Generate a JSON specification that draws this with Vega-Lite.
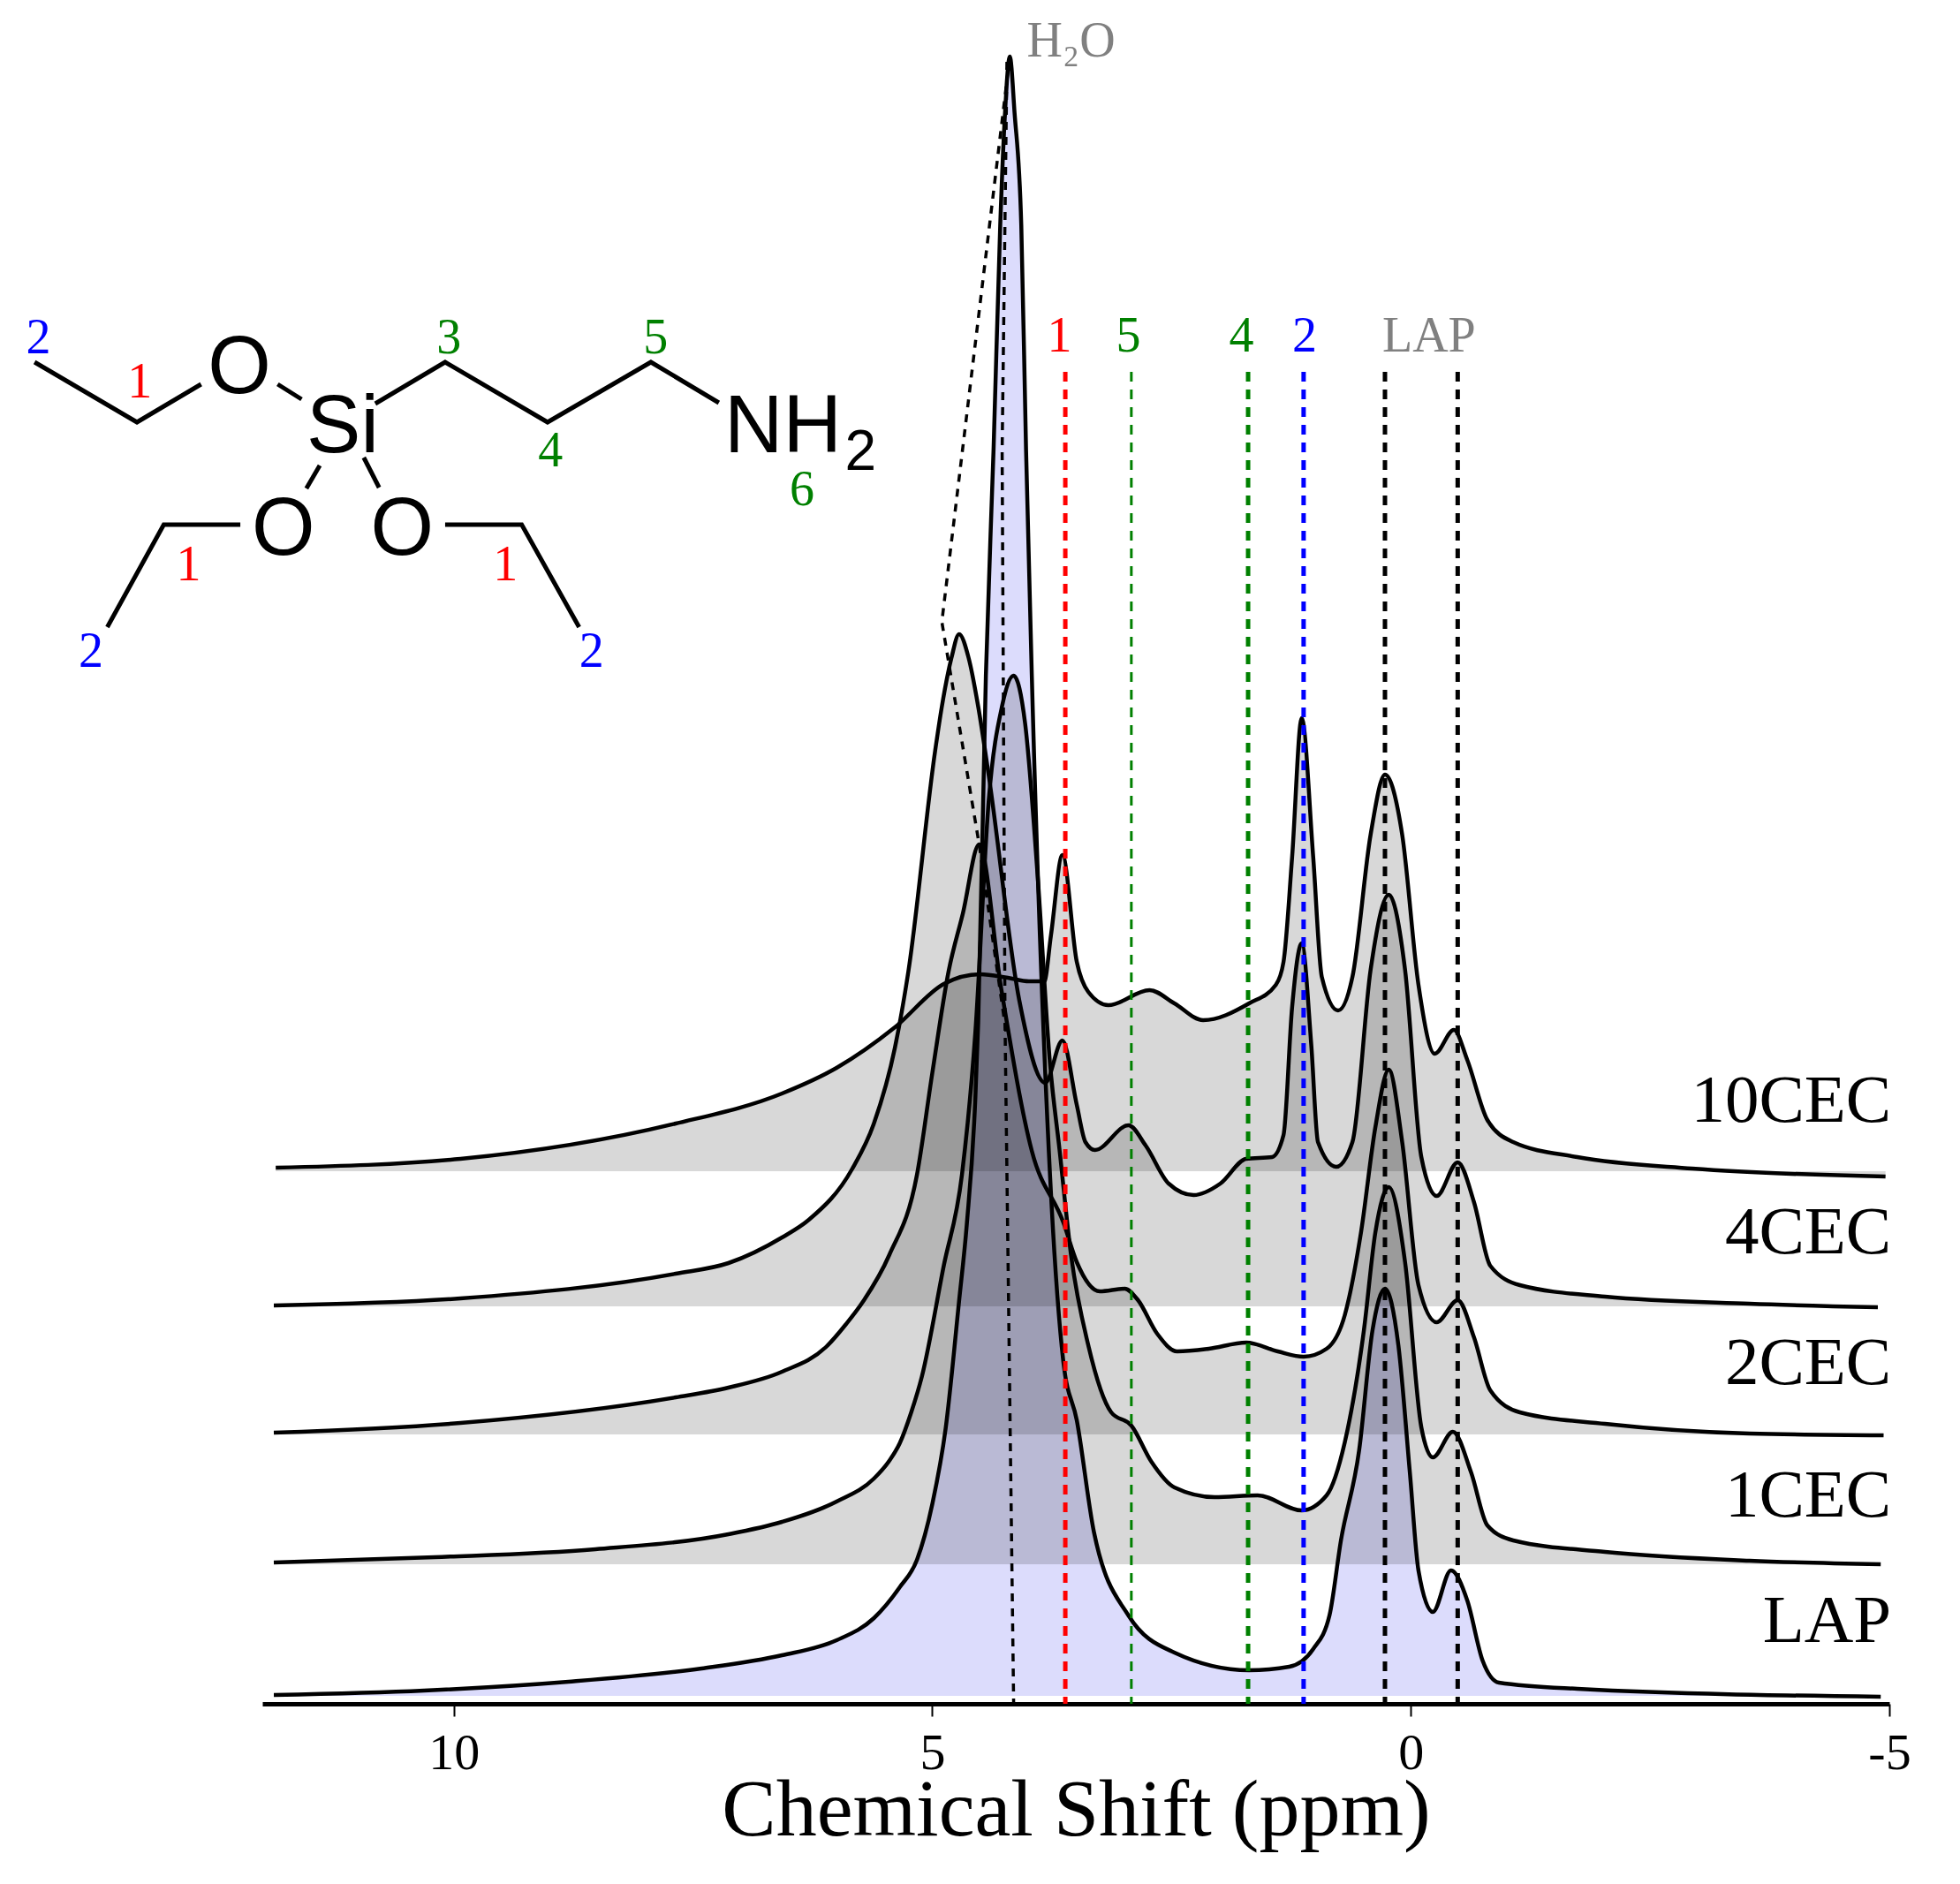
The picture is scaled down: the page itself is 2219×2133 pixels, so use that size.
{
  "$schema": "https://vega.github.io/schema/vega-lite/v6.json",
  "width": 1842,
  "height": 1929,
  "autosize": "none",
  "padding": {"left": 297, "top": 0, "right": 80, "bottom": 204},
  "background": "white",
  "config": {"view": {"stroke": null}},
  "datasets": {
    "spectra": [
      {"series":"10CEC","ppm":11.86,"y":607,"base":603},{"series":"10CEC","ppm":9.93,"y":617,"base":603},{"series":"10CEC","ppm":7.68,"y":657,"base":603},{"series":"10CEC","ppm":6.57,"y":691,"base":603},{"series":"10CEC","ppm":6.0,"y":720,"base":603},{"series":"10CEC","ppm":5.39,"y":766,"base":603},{"series":"10CEC","ppm":4.88,"y":815,"base":603},{"series":"10CEC","ppm":4.5,"y":826,"base":603},{"series":"10CEC","ppm":4.21,"y":822,"base":603},{"series":"10CEC","ppm":3.99,"y":818,"base":603},{"series":"10CEC","ppm":3.83,"y":818,"base":603},{"series":"10CEC","ppm":3.76,"y":870,"base":603},{"series":"10CEC","ppm":3.64,"y":961,"base":603},{"series":"10CEC","ppm":3.49,"y":840,"base":603},{"series":"10CEC","ppm":3.37,"y":806,"base":603},{"series":"10CEC","ppm":3.16,"y":791,"base":603},{"series":"10CEC","ppm":2.73,"y":808,"base":603},{"series":"10CEC","ppm":2.47,"y":793,"base":603},{"series":"10CEC","ppm":2.17,"y":774,"base":603},{"series":"10CEC","ppm":1.69,"y":793,"base":603},{"series":"10CEC","ppm":1.41,"y":814,"base":603},{"series":"10CEC","ppm":1.33,"y":840,"base":603},{"series":"10CEC","ppm":1.24,"y":959,"base":603},{"series":"10CEC","ppm":1.14,"y":1116,"base":603},{"series":"10CEC","ppm":1.02,"y":959,"base":603},{"series":"10CEC","ppm":0.93,"y":823,"base":603},{"series":"10CEC","ppm":0.76,"y":785,"base":603},{"series":"10CEC","ppm":0.61,"y":823,"base":603},{"series":"10CEC","ppm":0.42,"y":984,"base":603},{"series":"10CEC","ppm":0.27,"y":1052,"base":603},{"series":"10CEC","ppm":0.09,"y":984,"base":603},{"series":"10CEC","ppm":-0.08,"y":814,"base":603},{"series":"10CEC","ppm":-0.25,"y":736,"base":603},{"series":"10CEC","ppm":-0.45,"y":763,"base":603},{"series":"10CEC","ppm":-0.59,"y":729,"base":603},{"series":"10CEC","ppm":-0.8,"y":661,"base":603},{"series":"10CEC","ppm":-1.07,"y":636,"base":603},{"series":"10CEC","ppm":-1.74,"y":619,"base":603},{"series":"10CEC","ppm":-2.94,"y":606,"base":603},{"series":"10CEC","ppm":-4.96,"y":597,"base":603},
      {"series":"4CEC","ppm":11.88,"y":451,"base":450},{"series":"4CEC","ppm":9.93,"y":459,"base":450},{"series":"4CEC","ppm":7.68,"y":487,"base":450},{"series":"4CEC","ppm":7.13,"y":499,"base":450},{"series":"4CEC","ppm":6.57,"y":528,"base":450},{"series":"4CEC","ppm":6.29,"y":548,"base":450},{"series":"4CEC","ppm":5.84,"y":605,"base":450},{"series":"4CEC","ppm":5.61,"y":657,"base":450},{"series":"4CEC","ppm":5.39,"y":743,"base":450},{"series":"4CEC","ppm":5.25,"y":829,"base":450},{"series":"4CEC","ppm":4.97,"y":1079,"base":450},{"series":"4CEC","ppm":4.9,"y":1129,"base":450},{"series":"4CEC","ppm":4.8,"y":1184,"base":450},{"series":"4CEC","ppm":4.72,"y":1211,"base":450},{"series":"4CEC","ppm":4.62,"y":1184,"base":450},{"series":"4CEC","ppm":4.52,"y":1129,"base":450},{"series":"4CEC","ppm":4.41,"y":1051,"base":450},{"series":"4CEC","ppm":4.09,"y":796,"base":450},{"series":"4CEC","ppm":3.82,"y":703,"base":450},{"series":"4CEC","ppm":3.64,"y":751,"base":450},{"series":"4CEC","ppm":3.49,"y":678,"base":450},{"series":"4CEC","ppm":3.4,"y":636,"base":450},{"series":"4CEC","ppm":3.3,"y":627,"base":450},{"series":"4CEC","ppm":2.95,"y":655,"base":450},{"series":"4CEC","ppm":2.77,"y":632,"base":450},{"series":"4CEC","ppm":2.53,"y":589,"base":450},{"series":"4CEC","ppm":2.27,"y":576,"base":450},{"series":"4CEC","ppm":1.99,"y":589,"base":450},{"series":"4CEC","ppm":1.72,"y":617,"base":450},{"series":"4CEC","ppm":1.45,"y":619,"base":450},{"series":"4CEC","ppm":1.33,"y":644,"base":450},{"series":"4CEC","ppm":1.24,"y":789,"base":450},{"series":"4CEC","ppm":1.14,"y":861,"base":450},{"series":"4CEC","ppm":1.04,"y":746,"base":450},{"series":"4CEC","ppm":0.97,"y":636,"base":450},{"series":"4CEC","ppm":0.78,"y":608,"base":450},{"series":"4CEC","ppm":0.61,"y":636,"base":450},{"series":"4CEC","ppm":0.42,"y":831,"base":450},{"series":"4CEC","ppm":0.23,"y":916,"base":450},{"series":"4CEC","ppm":0.06,"y":831,"base":450},{"series":"4CEC","ppm":-0.11,"y":619,"base":450},{"series":"4CEC","ppm":-0.27,"y":575,"base":450},{"series":"4CEC","ppm":-0.49,"y":613,"base":450},{"series":"4CEC","ppm":-0.66,"y":568,"base":450},{"series":"4CEC","ppm":-0.83,"y":496,"base":450},{"series":"4CEC","ppm":-1.14,"y":474,"base":450},{"series":"4CEC","ppm":-2.03,"y":461,"base":450},{"series":"4CEC","ppm":-3.54,"y":453,"base":450},{"series":"4CEC","ppm":-4.88,"y":449,"base":450},
      {"series":"2CEC","ppm":11.88,"y":307,"base":305},{"series":"2CEC","ppm":9.93,"y":318,"base":305},{"series":"2CEC","ppm":7.68,"y":347,"base":305},{"series":"2CEC","ppm":7.13,"y":358,"base":305},{"series":"2CEC","ppm":6.57,"y":376,"base":305},{"series":"2CEC","ppm":6.11,"y":404,"base":305},{"series":"2CEC","ppm":5.9,"y":430,"base":305},{"series":"2CEC","ppm":5.72,"y":456,"base":305},{"series":"2CEC","ppm":5.45,"y":508,"base":305},{"series":"2CEC","ppm":5.16,"y":599,"base":305},{"series":"2CEC","ppm":5.0,"y":714,"base":305},{"series":"2CEC","ppm":4.83,"y":829,"base":305},{"series":"2CEC","ppm":4.68,"y":895,"base":305},{"series":"2CEC","ppm":4.51,"y":973,"base":305},{"series":"2CEC","ppm":4.28,"y":810,"base":305},{"series":"2CEC","ppm":3.96,"y":626,"base":305},{"series":"2CEC","ppm":3.63,"y":545,"base":305},{"series":"2CEC","ppm":3.49,"y":500,"base":305},{"series":"2CEC","ppm":3.25,"y":467,"base":305},{"series":"2CEC","ppm":2.99,"y":470,"base":305},{"series":"2CEC","ppm":2.85,"y":457,"base":305},{"series":"2CEC","ppm":2.65,"y":419,"base":305},{"series":"2CEC","ppm":2.44,"y":399,"base":305},{"series":"2CEC","ppm":2.11,"y":402,"base":305},{"series":"2CEC","ppm":1.72,"y":409,"base":305},{"series":"2CEC","ppm":1.39,"y":399,"base":305},{"series":"2CEC","ppm":1.12,"y":393,"base":305},{"series":"2CEC","ppm":0.88,"y":402,"base":305},{"series":"2CEC","ppm":0.69,"y":440,"base":305},{"series":"2CEC","ppm":0.52,"y":534,"base":305},{"series":"2CEC","ppm":0.37,"y":653,"base":305},{"series":"2CEC","ppm":0.23,"y":718,"base":305},{"series":"2CEC","ppm":0.09,"y":636,"base":305},{"series":"2CEC","ppm":-0.08,"y":474,"base":305},{"series":"2CEC","ppm":-0.27,"y":432,"base":305},{"series":"2CEC","ppm":-0.49,"y":457,"base":305},{"series":"2CEC","ppm":-0.66,"y":415,"base":305},{"series":"2CEC","ppm":-0.83,"y":355,"base":305},{"series":"2CEC","ppm":-1.14,"y":330,"base":305},{"series":"2CEC","ppm":-2.03,"y":317,"base":305},{"series":"2CEC","ppm":-3.54,"y":306,"base":305},{"series":"2CEC","ppm":-4.94,"y":304,"base":305},
      {"series":"1CEC","ppm":11.88,"y":160,"base":158},{"series":"1CEC","ppm":10.2,"y":166,"base":158},{"series":"1CEC","ppm":8.52,"y":175,"base":158},{"series":"1CEC","ppm":7.13,"y":192,"base":158},{"series":"1CEC","ppm":6.57,"y":206,"base":158},{"series":"1CEC","ppm":6.0,"y":229,"base":158},{"series":"1CEC","ppm":5.61,"y":255,"base":158},{"series":"1CEC","ppm":5.45,"y":275,"base":158},{"series":"1CEC","ppm":5.34,"y":295,"base":158},{"series":"1CEC","ppm":5.22,"y":330,"base":158},{"series":"1CEC","ppm":5.11,"y":370,"base":158},{"series":"1CEC","ppm":4.88,"y":496,"base":158},{"series":"1CEC","ppm":4.69,"y":599,"base":158},{"series":"1CEC","ppm":4.55,"y":760,"base":158},{"series":"1CEC","ppm":4.41,"y":1023,"base":158},{"series":"1CEC","ppm":4.27,"y":1130,"base":158},{"series":"1CEC","ppm":4.15,"y":1164,"base":158},{"series":"1CEC","ppm":4.03,"y":1110,"base":158},{"series":"1CEC","ppm":3.9,"y":939,"base":158},{"series":"1CEC","ppm":3.77,"y":725,"base":158},{"series":"1CEC","ppm":3.67,"y":627,"base":158},{"series":"1CEC","ppm":3.55,"y":508,"base":158},{"series":"1CEC","ppm":3.37,"y":406,"base":158},{"series":"1CEC","ppm":3.13,"y":330,"base":158},{"series":"1CEC","ppm":2.92,"y":315,"base":158},{"series":"1CEC","ppm":2.71,"y":274,"base":158},{"series":"1CEC","ppm":2.47,"y":245,"base":158},{"series":"1CEC","ppm":2.05,"y":234,"base":158},{"series":"1CEC","ppm":1.6,"y":236,"base":158},{"series":"1CEC","ppm":1.14,"y":219,"base":158},{"series":"1CEC","ppm":0.88,"y":236,"base":158},{"series":"1CEC","ppm":0.69,"y":296,"base":158},{"series":"1CEC","ppm":0.49,"y":423,"base":158},{"series":"1CEC","ppm":0.37,"y":534,"base":158},{"series":"1CEC","ppm":0.23,"y":585,"base":158},{"series":"1CEC","ppm":0.06,"y":500,"base":158},{"series":"1CEC","ppm":-0.11,"y":313,"base":158},{"series":"1CEC","ppm":-0.23,"y":279,"base":158},{"series":"1CEC","ppm":-0.44,"y":308,"base":158},{"series":"1CEC","ppm":-0.63,"y":262,"base":158},{"series":"1CEC","ppm":-0.8,"y":202,"base":158},{"series":"1CEC","ppm":-1.07,"y":185,"base":158},{"series":"1CEC","ppm":-2.03,"y":172,"base":158},{"series":"1CEC","ppm":-3.54,"y":162,"base":158},{"series":"1CEC","ppm":-4.91,"y":158,"base":158},
      {"series":"LAP","ppm":11.88,"y":10,"base":9},{"series":"LAP","ppm":10.31,"y":15,"base":9},{"series":"LAP","ppm":8.8,"y":25,"base":9},{"series":"LAP","ppm":7.41,"y":40,"base":9},{"series":"LAP","ppm":6.57,"y":55,"base":9},{"series":"LAP","ppm":6.0,"y":72,"base":9},{"series":"LAP","ppm":5.61,"y":97,"base":9},{"series":"LAP","ppm":5.34,"y":132,"base":9},{"series":"LAP","ppm":5.16,"y":163,"base":9},{"series":"LAP","ppm":5.0,"y":226,"base":9},{"series":"LAP","ppm":4.86,"y":312,"base":9},{"series":"LAP","ppm":4.72,"y":456,"base":9},{"series":"LAP","ppm":4.64,"y":542,"base":9},{"series":"LAP","ppm":4.55,"y":686,"base":9},{"series":"LAP","ppm":4.52,"y":772,"base":9},{"series":"LAP","ppm":4.44,"y":1164,"base":9},{"series":"LAP","ppm":4.36,"y":1419,"base":9},{"series":"LAP","ppm":4.29,"y":1674,"base":9},{"series":"LAP","ppm":4.24,"y":1801,"base":9},{"series":"LAP","ppm":4.19,"y":1865,"base":9},{"series":"LAP","ppm":4.14,"y":1801,"base":9},{"series":"LAP","ppm":4.07,"y":1674,"base":9},{"series":"LAP","ppm":4.02,"y":1419,"base":9},{"series":"LAP","ppm":3.96,"y":1164,"base":9},{"series":"LAP","ppm":3.77,"y":599,"base":9},{"series":"LAP","ppm":3.63,"y":387,"base":9},{"series":"LAP","ppm":3.49,"y":321,"base":9},{"series":"LAP","ppm":3.31,"y":194,"base":9},{"series":"LAP","ppm":2.95,"y":100,"base":9},{"series":"LAP","ppm":2.47,"y":58,"base":9},{"series":"LAP","ppm":1.69,"y":38,"base":9},{"series":"LAP","ppm":1.27,"y":42,"base":9},{"series":"LAP","ppm":1.02,"y":62,"base":9},{"series":"LAP","ppm":0.85,"y":100,"base":9},{"series":"LAP","ppm":0.73,"y":185,"base":9},{"series":"LAP","ppm":0.54,"y":287,"base":9},{"series":"LAP","ppm":0.4,"y":423,"base":9},{"series":"LAP","ppm":0.27,"y":470,"base":9},{"series":"LAP","ppm":0.13,"y":406,"base":9},{"series":"LAP","ppm":0.01,"y":262,"base":9},{"series":"LAP","ppm":-0.08,"y":151,"base":9},{"series":"LAP","ppm":-0.23,"y":104,"base":9},{"series":"LAP","ppm":-0.42,"y":151,"base":9},{"series":"LAP","ppm":-0.59,"y":117,"base":9},{"series":"LAP","ppm":-0.75,"y":49,"base":9},{"series":"LAP","ppm":-0.92,"y":24,"base":9},{"series":"LAP","ppm":-1.74,"y":17,"base":9},{"series":"LAP","ppm":-4.91,"y":8,"base":9}
    ],
    "markers": [
      {"group":"1","ppm":3.61,"top":1508,"weight":"heavy"},
      {"group":"5","ppm":2.92,"top":1508,"weight":"light"},
      {"group":"4","ppm":1.7,"top":1508,"weight":"heavy"},
      {"group":"2","ppm":1.12,"top":1508,"weight":"heavy"},
      {"group":"LAP","ppm":0.27,"top":1508,"weight":"heavy"},
      {"group":"LAP","ppm":-0.49,"top":1508,"weight":"heavy"}
    ],
    "water": [
      {"path":"a","step":1,"ppm":4.22,"y":1859},{"path":"a","step":2,"ppm":4.27,"y":1419},{"path":"a","step":3,"ppm":4.24,"y":772},{"path":"a","step":4,"ppm":4.15,"y":2},
      {"path":"b","step":1,"ppm":4.19,"y":1865},{"path":"b","step":2,"ppm":4.9,"y":1225},{"path":"b","step":3,"ppm":4.51,"y":973},{"path":"b","step":4,"ppm":4.22,"y":754}
    ],
    "bonds": [
      {"bond":"b1","step":1,"ppm":14.38,"y":1519},{"bond":"b1","step":2,"ppm":13.31,"y":1451},{"bond":"b1","step":3,"ppm":12.64,"y":1494},
      {"bond":"b2","step":1,"ppm":11.84,"y":1494},{"bond":"b2","step":2,"ppm":11.59,"y":1477},
      {"bond":"b3","step":1,"ppm":10.82,"y":1472},{"bond":"b3","step":2,"ppm":10.09,"y":1519},{"bond":"b3","step":3,"ppm":9.02,"y":1451},{"bond":"b3","step":4,"ppm":7.94,"y":1519},{"bond":"b3","step":5,"ppm":7.23,"y":1473},
      {"bond":"b4","step":1,"ppm":11.4,"y":1402},{"bond":"b4","step":2,"ppm":11.54,"y":1376},
      {"bond":"b5","step":1,"ppm":10.94,"y":1411},{"bond":"b5","step":2,"ppm":10.78,"y":1377},
      {"bond":"b6","step":1,"ppm":12.23,"y":1335},{"bond":"b6","step":2,"ppm":13.03,"y":1335},{"bond":"b6","step":3,"ppm":13.62,"y":1219},
      {"bond":"b7","step":1,"ppm":10.09,"y":1335},{"bond":"b7","step":2,"ppm":9.29,"y":1335},{"bond":"b7","step":3,"ppm":8.69,"y":1219}
    ],
    "atoms": [
      {"label":"O","ppm":12.24,"y":1484},{"label":"Si","ppm":11.16,"y":1417},{"label":"NH","ppm":6.56,"y":1417},{"label":"O","ppm":11.78,"y":1301},{"label":"O","ppm":10.54,"y":1301}
    ],
    "subscripts": [
      {"label":"2","ppm":5.75,"y":1397}
    ],
    "numbers": [
      {"label":"2","group":"2","ppm":14.34,"y":1529},{"label":"1","group":"1","ppm":13.28,"y":1479},{"label":"3","group":"3","ppm":10.05,"y":1529},{"label":"5","group":"5","ppm":7.89,"y":1529},{"label":"4","group":"4","ppm":8.99,"y":1401},{"label":"6","group":"6","ppm":6.36,"y":1357},{"label":"1","group":"1","ppm":12.77,"y":1272},{"label":"1","group":"1","ppm":9.46,"y":1272},{"label":"2","group":"2","ppm":13.79,"y":1174},{"label":"2","group":"2","ppm":8.56,"y":1174},
      {"label":"1","group":"1","ppm":3.67,"y":1531},{"label":"5","group":"5","ppm":2.95,"y":1531},{"label":"4","group":"4","ppm":1.77,"y":1531},{"label":"2","group":"2","ppm":1.11,"y":1531},{"label":"LAP","group":"solid","ppm":-0.19,"y":1531},{"label":"H₂O","group":"solid","ppm":3.55,"y":1865}
    ],
    "names": [
      {"label":"10CEC","ppm":-5.02,"y":659},{"label":"4CEC","ppm":-5.02,"y":510},{"label":"2CEC","ppm":-5.02,"y":362},{"label":"1CEC","ppm":-5.02,"y":212},{"label":"LAP","ppm":-5.02,"y":70}
    ]
  },
  "encoding": {
    "x": {
      "field": "ppm",
      "type": "quantitative",
      "scale": {"domain": [12, -5], "nice": false, "zero": false}
    }
  },
  "layer": [
    {
      "data": {"name": "spectra"},
      "mark": {"type": "area", "interpolate": "monotone", "blend": "multiply"},
      "encoding": {
        "x": {
          "field": "ppm",
          "type": "quantitative",
          "scale": {"domain": [12, -5], "nice": false, "zero": false},
          "axis": {
            "values": [10, 5, 0, -5],
            "format": "d",
            "title": "Chemical Shift (ppm)",
            "titleFont": "Liberation Serif",
            "titleFontSize": 92,
            "titleFontWeight": "normal",
            "titleColor": "black",
            "titlePadding": -10,
            "labelFont": "Liberation Serif",
            "labelFontSize": 58,
            "labelColor": "black",
            "labelPadding": 13,
            "labelExpr": "datum.value == -5 ? '-5' : datum.label",
            "labelOverlap": false,
            "labelFlush": false,
            "tickSize": 14,
            "tickWidth": 2,
            "tickColor": "black",
            "domainColor": "black",
            "domainWidth": 5,
            "grid": false
          }
        },
        "y": {"field": "y", "type": "quantitative", "scale": {"domain": [0, 1929], "nice": false, "zero": false}, "axis": null},
        "y2": {"field": "base"},
        "fill": {
          "field": "series",
          "type": "nominal",
          "legend": null,
          "scale": {"domain": ["10CEC", "4CEC", "2CEC", "1CEC", "LAP"], "range": ["#d8d8d8", "#d8d8d8", "#d8d8d8", "#d8d8d8", "#dcdcfc"]}
        }
      }
    },
    {
      "data": {"name": "spectra"},
      "mark": {"type": "line", "interpolate": "monotone", "color": "black", "strokeWidth": 4.5},
      "encoding": {
        "y": {"field": "y", "type": "quantitative"},
        "detail": {"field": "series"}
      }
    },
    {
      "data": {"name": "markers"},
      "transform": [{"filter": "datum.weight == 'heavy'"}],
      "mark": {"type": "rule", "strokeWidth": 5, "strokeDash": [11, 9]},
      "encoding": {
        "y": {"field": "top", "type": "quantitative"},
        "y2": {"datum": 0},
        "color": {
          "field": "group",
          "type": "nominal",
          "legend": null,
          "scale": {"domain": ["1", "2", "3", "4", "5", "6", "LAP", "solid"], "range": ["#ff0000", "#0000ff", "#008000", "#008000", "#008000", "#008000", "#000000", "#808080"]}
        }
      }
    },
    {
      "data": {"name": "markers"},
      "transform": [{"filter": "datum.weight == 'light'"}],
      "mark": {"type": "rule", "strokeWidth": 3, "strokeDash": [11, 9]},
      "encoding": {
        "y": {"field": "top", "type": "quantitative"},
        "y2": {"datum": 0},
        "color": {"field": "group", "type": "nominal", "legend": null}
      }
    },
    {
      "data": {"name": "water"},
      "mark": {"type": "line", "color": "black", "strokeWidth": 3.5, "strokeDash": [9, 8]},
      "encoding": {
        "y": {"field": "y", "type": "quantitative"},
        "detail": {"field": "path"},
        "order": {"field": "step"}
      }
    },
    {
      "data": {"name": "bonds"},
      "mark": {"type": "line", "color": "black", "strokeWidth": 5},
      "encoding": {
        "y": {"field": "y", "type": "quantitative"},
        "detail": {"field": "bond"},
        "order": {"field": "step"}
      }
    },
    {
      "data": {"name": "atoms"},
      "mark": {"type": "text", "font": "Liberation Sans", "fontSize": 92, "color": "black", "baseline": "alphabetic"},
      "encoding": {
        "y": {"field": "y", "type": "quantitative"},
        "text": {"field": "label"}
      }
    },
    {
      "data": {"name": "subscripts"},
      "mark": {"type": "text", "font": "Liberation Sans", "fontSize": 64, "color": "black", "baseline": "alphabetic"},
      "encoding": {
        "y": {"field": "y", "type": "quantitative"},
        "text": {"field": "label"}
      }
    },
    {
      "data": {"name": "numbers"},
      "mark": {"type": "text", "font": "Liberation Serif", "fontSize": 56, "baseline": "alphabetic"},
      "encoding": {
        "y": {"field": "y", "type": "quantitative"},
        "text": {"field": "label"},
        "color": {"field": "group", "type": "nominal", "legend": null}
      }
    },
    {
      "data": {"name": "names"},
      "mark": {"type": "text", "font": "Liberation Serif", "fontSize": 77, "color": "black", "align": "right", "baseline": "alphabetic"},
      "encoding": {
        "y": {"field": "y", "type": "quantitative"},
        "text": {"field": "label"}
      }
    }
  ]
}
